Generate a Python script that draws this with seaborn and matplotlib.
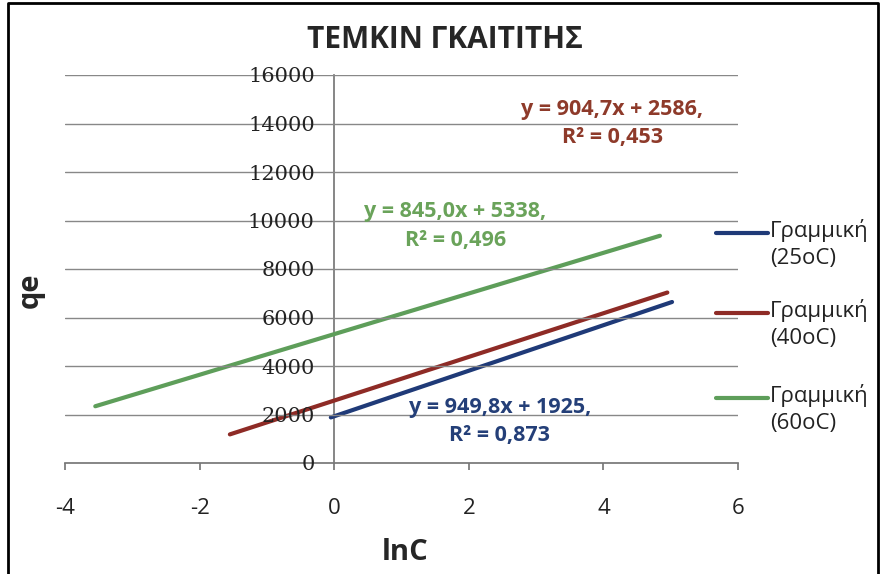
import numpy as np
import pandas as pd
import matplotlib
matplotlib.use('Agg')
import matplotlib.pyplot as plt
import seaborn as sns
from matplotlib.lines import Line2D

# Temkin isotherm - linear trendlines
temps = ['25oC', '40oC', '60oC']
labels = ['Γραμμική\n(25oC)', 'Γραμμική\n(40oC)', 'Γραμμική\n(60oC)']
x_start = [-0.05, -1.55, -3.55]
x_end = [5.02, 4.95, 4.84]
y_start = [1880, 1180, 2340]
y_end = [6640, 7030, 9370]
equations = ['y = 949,8x + 1925,\nR² = 0,873',
             'y = 904,7x + 2586,\nR² = 0,453',
             'y = 845,0x + 5338,\nR² = 0,496']
colors = ['#1F3A78', '#8E2B26', '#5E9E5A']
text_colors = ['#243F78', '#8E3A2A', '#6AA35A']
x_ticks = [-4, -2, 0, 2, 4, 6]
y_ticks = [0, 2000, 4000, 6000, 8000, 10000, 12000, 14000, 16000]

rows = []
for t, xs, xe, ys, ye in zip(temps, x_start, x_end, y_start, y_end):
    rows.append({'temp': t, 'lnC': xs, 'qe': ys})
    rows.append({'temp': t, 'lnC': xe, 'qe': ye})
df = pd.DataFrame(rows)

sns.set_theme(style='white')
plt.rcParams['font.family'] = ['Open Sans', 'DejaVu Sans']

fig = plt.figure(figsize=(8.81, 5.74), dpi=100)
ax = fig.add_axes([65 / 881, 111 / 574, 673 / 881, 388 / 574])

sns.lineplot(data=df, x='lnC', y='qe', hue='temp', palette=colors,
             linewidth=3, ax=ax, legend=False)

for s in ['top', 'right']:
    ax.spines[s].set_visible(False)
ax.spines['left'].set_position(('data', 0))
ax.spines['left'].set_color('#777777')
ax.spines['bottom'].set_color('#777777')
ax.spines['left'].set_zorder(0)

ax.set_xlim(-4, 6)
ax.set_ylim(0, 16000)
ax.tick_params(axis='y', length=0, pad=14)
ax.tick_params(axis='x', length=5, direction='out', color='#777777', pad=20, bottom=True)
ax.set_xticks(x_ticks)
ax.set_yticks(y_ticks)
ax.set_xticklabels([str(v) for v in x_ticks], fontsize=16, color='#222222')
ax.set_yticklabels([str(v) for v in y_ticks], fontsize=15, color='#222222',
                   family='DejaVu Serif', zorder=1)
ax.grid(axis='y', color='#888888', linewidth=1, zorder=3)
ax.set_axisbelow(False)

ax.set_xlabel('')
ax.set_ylabel('')

# trendline equations
pos = [(0.646, 0.106), (0.813, 0.874), (0.580, 0.611)]
for eq, c, (px, py) in zip(equations, text_colors, pos):
    ax.text(px, py, eq, transform=ax.transAxes, ha='center', va='center',
            fontsize=15.5, fontweight='bold', color=c, linespacing=1.45)

fig.text(445 / 881, 1 - 40 / 574, 'ΤΕΜΚΙΝ ΓΚΑΙΤΙΤΗΣ', ha='center', va='center',
         fontsize=21.5, fontweight='bold')
fig.text(30 / 881, 1 - 290 / 574, 'qe', ha='center', va='center', rotation=90,
         fontsize=21, fontweight='bold')
fig.text(405 / 881, 1 - 553 / 574, 'lnC', ha='center', va='center',
         fontsize=21, fontweight='bold')

# legend drawn by hand so the line sits beside the first text line
legend_y = [233, 313, 398]
for lab, c, ly in zip(labels, colors, legend_y):
    yf = 1 - ly / 574
    fig.add_artist(Line2D([716 / 881, 768 / 881], [yf, yf], color=c, linewidth=3,
                          transform=fig.transFigure))
    fig.text(770 / 881, 1 - (ly - 14) / 574, lab, ha='left', va='top',
             fontsize=16, linespacing=1.35, color='#222222')

# chart border
fig.add_artist(Line2D([8 / 881, 8 / 881, 878 / 881, 878 / 881], [0, 0.995, 0.995, 0],
                      color='black', linewidth=2, transform=fig.transFigure))

fig.savefig('out.png', dpi=100)
